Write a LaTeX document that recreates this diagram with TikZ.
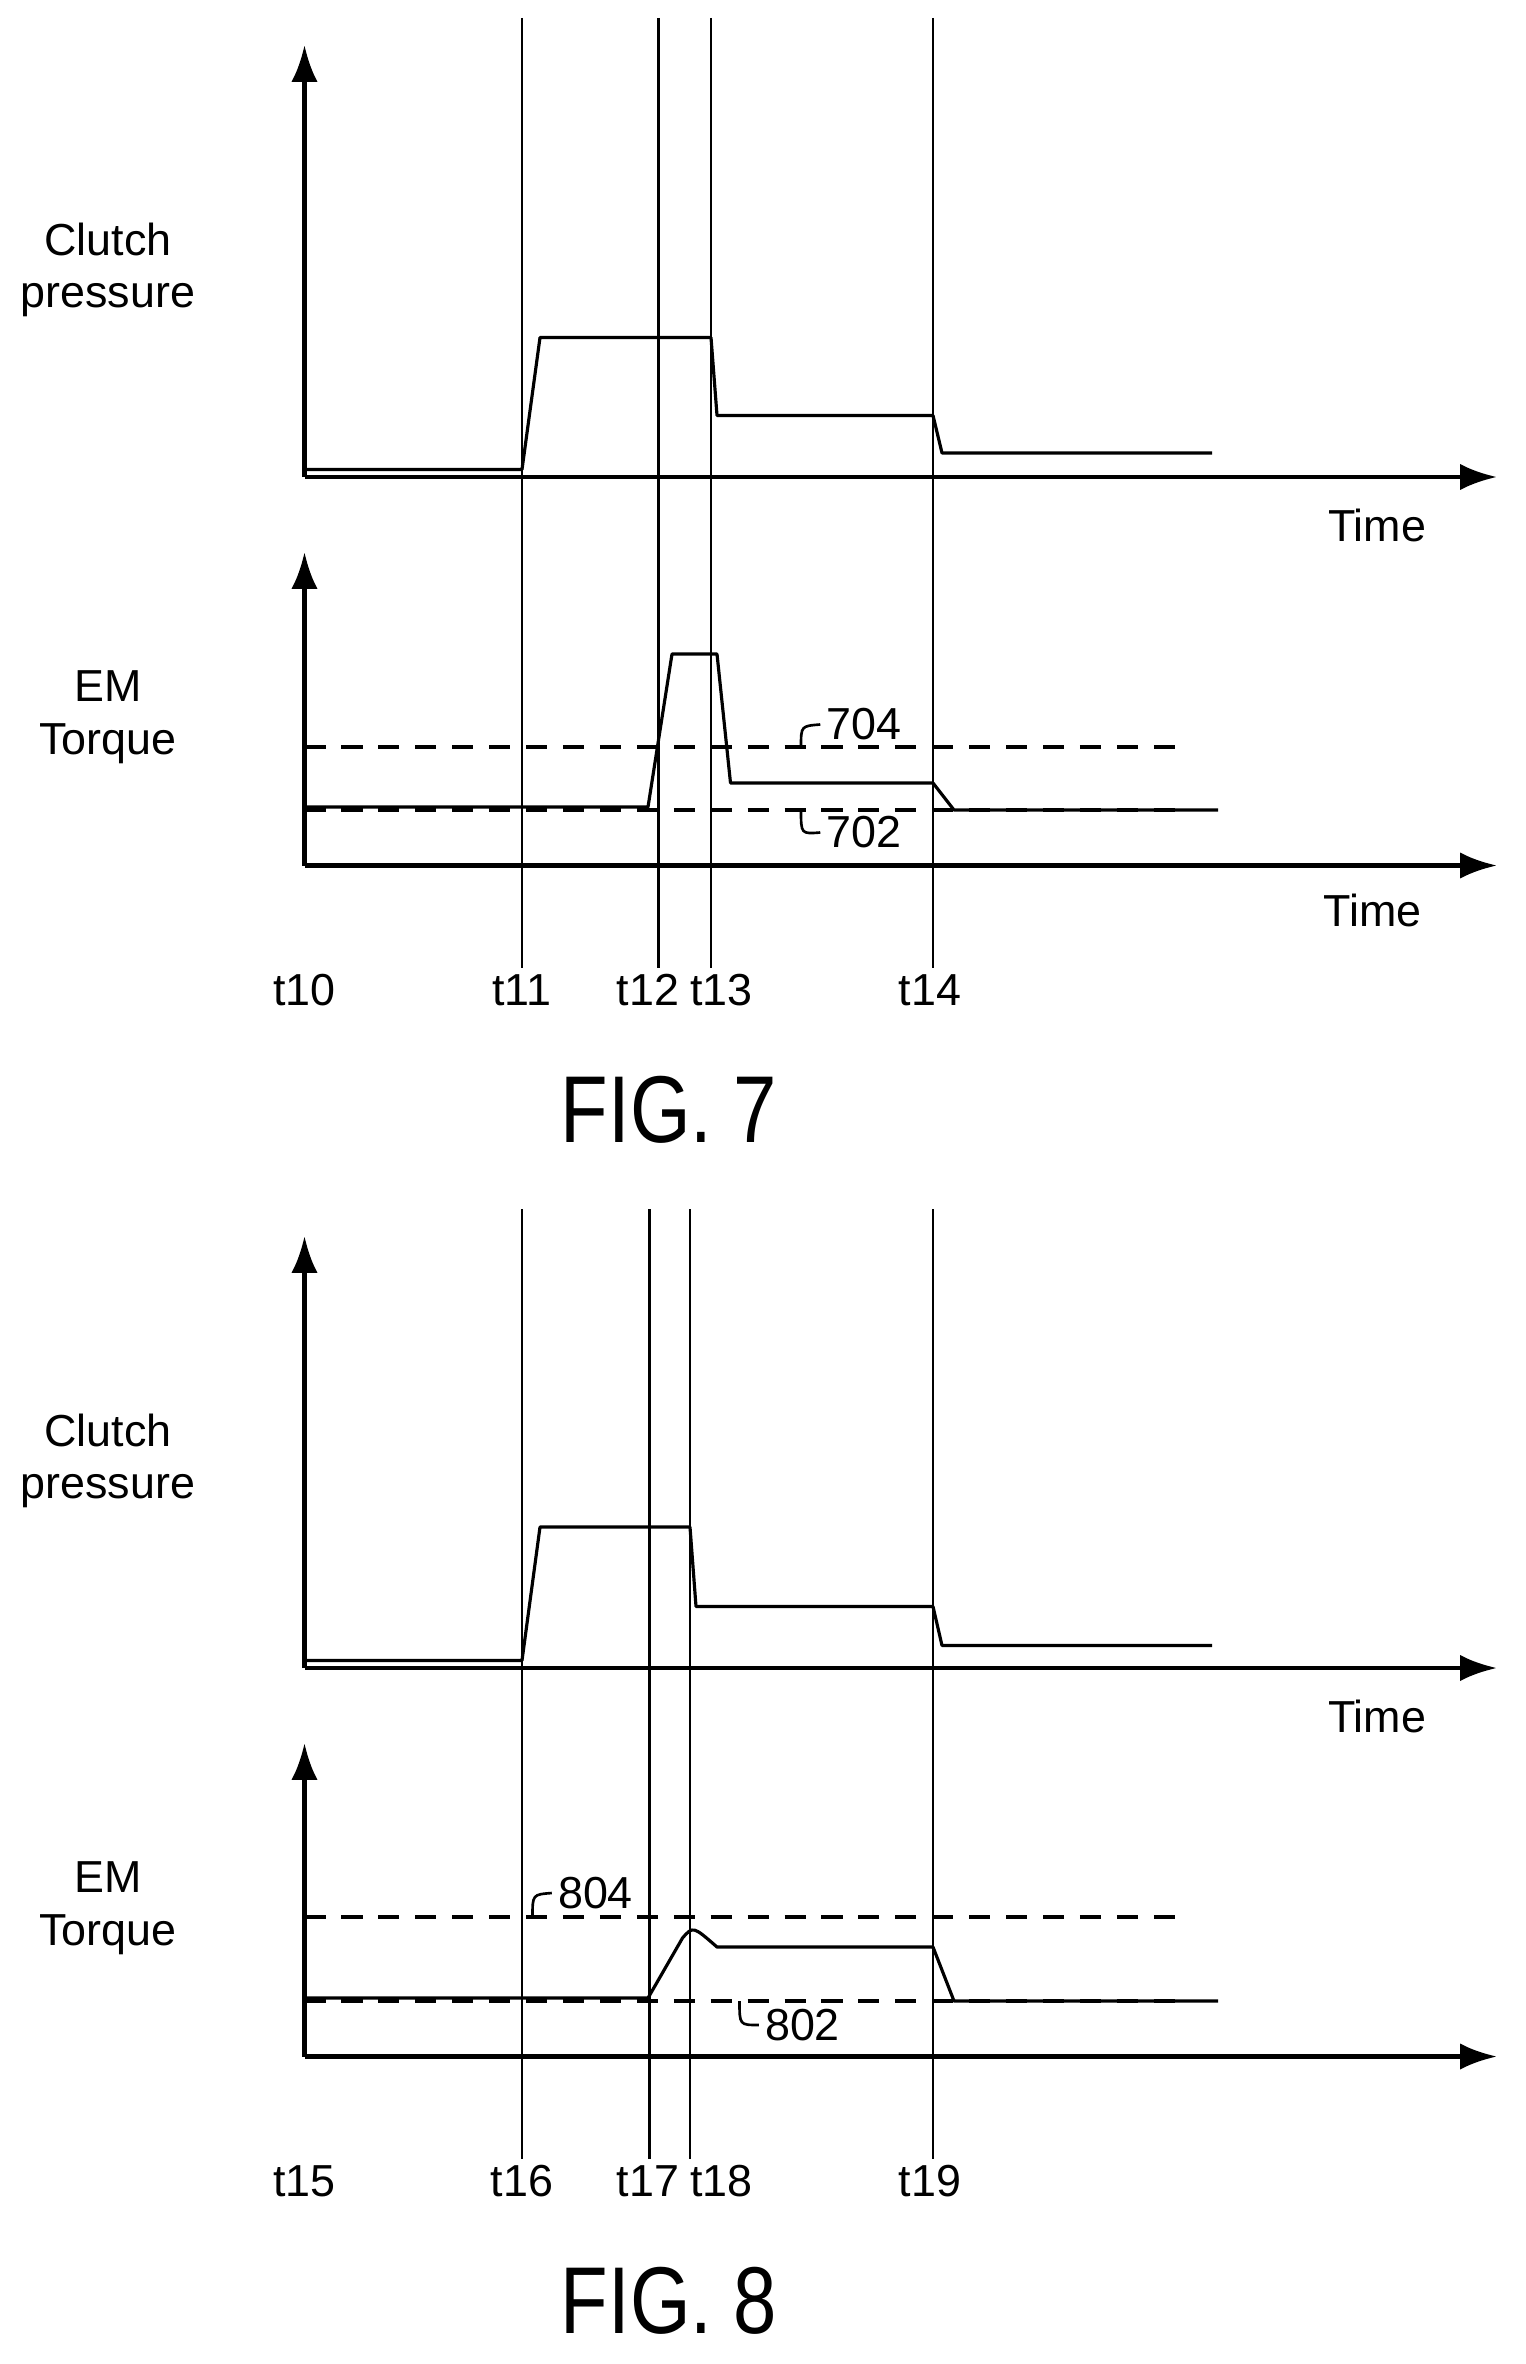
\documentclass[tikz,border=0pt]{standalone}
\usepackage{fontspec}
\setmainfont{Liberation Sans}
\usetikzlibrary{arrows.meta}
\tikzset{
  axis/.style={line width=0.9pt, -{Latex[length=7pt,width=5pt]}},
  tline/.style={line width=0.5pt},
  trace/.style={line width=0.6pt, line join=round},
  limit/.style={line width=0.6pt, dash pattern=on 4pt off 3pt},
  lbl/.style={font=\fontsize{8.5}{10}\selectfont, align=center},
  figlbl/.style={font=\fontsize{18}{21}\selectfont, xscale=0.82},
}
\begin{document}
\begin{tikzpicture}[x=0.01cm, y=-0.01cm]
  \useasboundingbox (0,0) rectangle (1016.7,1576);
  \foreach \fig/\off/\ta/\tb/\tc/\td/\te/\xc/\xd in
    {7/0/t10/t11/t12/t13/t14/439/474,
     8/794/t15/t16/t17/t18/t19/433/460} {
    \begin{scope}[yshift=-\off*0.01cm]
      % axes
      \coordinate (o1\fig) at (203,318);
      \coordinate (o2\fig) at (203,577);
      \draw[axis] (o1\fig) -- (203,30);
      \draw[axis] (o1\fig) -- (998,318);
      \draw[axis] (o2\fig) -- (203,368);
      \draw[axis] (o2\fig) -- (998,577);
      \node[lbl] (cp\fig) at (72,180) {Clutch\\pressure};
      \node[lbl] (em\fig) at (72,478) {EM\\Torque};
      \node[lbl] (ti1\fig) at (918,350) {Time};
      % time marks
      \draw[tline] (348,12) -- (348,645);
      \draw[tline] (\xc,12) -- (\xc,645);
      \draw[tline] (\xd,12) -- (\xd,645);
      \draw[tline] (622,12) -- (622,645);
      \node[lbl] (ta\fig) at (203,660) {\ta};
      \node[lbl] (tb\fig) at (348,660) {\tb};
      \node[lbl] (tc\fig) at (432,660) {\tc};
      \node[lbl] (td\fig) at (481,660) {\td};
      \node[lbl] (te\fig) at (620,660) {\te};
      \node[figlbl] (fig\fig) at (446,740) {FIG. \fig};
    \end{scope}
  }
  \node[lbl] (ti27) at (915,607) {Time};
  % FIG. 7 traces
  \draw[trace] (203,313) -- (348,313) -- (360,225) -- (474,225) -- (478,277)
    -- (622,277) -- (628,302) -- (808,302);
  \draw[limit] (203,498) -- (790,498);
  \draw[limit] (203,540) -- (790,540);
  \draw[trace] (203,538) -- (432,538) -- (448,436) -- (478,436) -- (487,522)
    -- (622,522) -- (636,540) -- (812,540);
  \node[lbl, inner sep=1pt] (n704) at (576,483) {704};
  \node[lbl, inner sep=1pt] (n702) at (576,555) {702};
  \draw[tline] (534,498) .. controls (534,484) .. (n704.west);
  \draw[tline] (534,540) .. controls (534,556) .. (n702.west);
  % FIG. 8 traces
  \draw[trace] (203,1107) -- (348,1107) -- (360,1018) -- (460,1018) -- (464,1071)
    -- (622,1071) -- (628,1097) -- (808,1097);
  \draw[limit] (203,1278) -- (790,1278);
  \draw[limit] (203,1334) -- (790,1334);
  \draw[trace] (203,1332) -- (432,1332) -- (455,1292) .. controls (462,1284) .. (478,1298)
    -- (622,1298) -- (636,1334) -- (812,1334);
  \node[lbl, inner sep=1pt] (n804) at (397,1262) {804};
  \node[lbl, inner sep=1pt] (n802) at (535,1350) {802};
  \draw[tline] (355,1278) .. controls (355,1263) .. (n804.west);
  \draw[tline] (493,1334) .. controls (493,1350) .. (n802.west);
\end{tikzpicture}
\end{document}
